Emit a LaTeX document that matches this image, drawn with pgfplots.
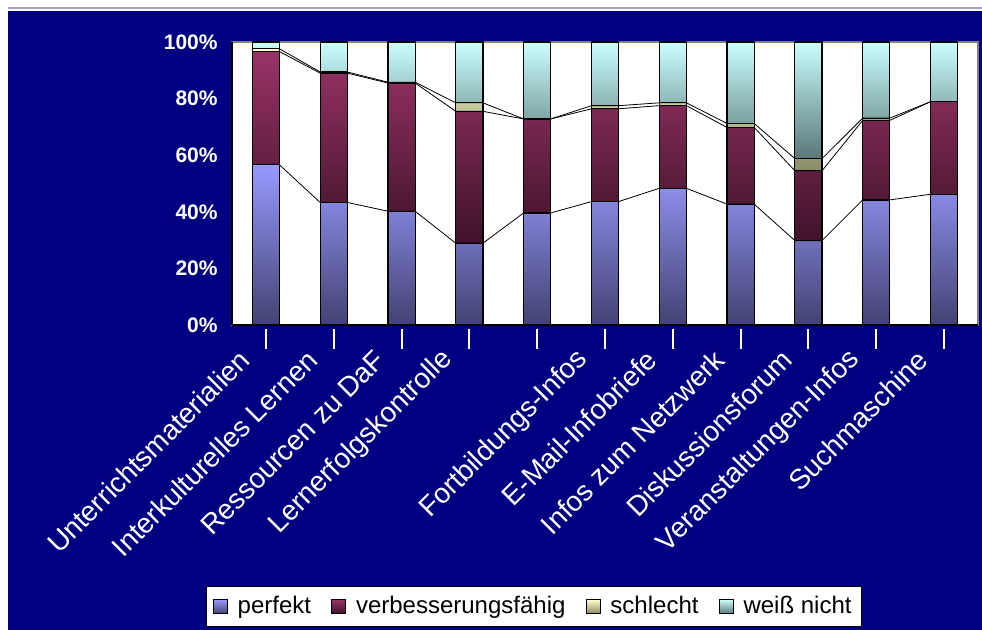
\documentclass[border=0pt]{standalone}
\usepackage{fontspec}
\setmainfont{Liberation Sans}
\usepackage{pgfplots}
\pgfplotsset{compat=1.18}
\definecolor{navybg}{HTML}{000080}
\definecolor{pT}{HTML}{9999FF}
\definecolor{pB}{HTML}{424272}
\definecolor{vT}{HTML}{993366}
\definecolor{vB}{HTML}{3E1228}
\definecolor{sT}{HTML}{FFFFCC}
\definecolor{sB}{HTML}{8A8A66}
\definecolor{wT}{HTML}{CCFFFF}
\definecolor{wB}{HTML}{587777}
\pgfplotsset{
  lg/.style={legend image code/.code={\draw[##1, line width=0.5pt] (0pt,-3.5pt) rectangle (7pt,3.5pt);}},
  geom/.style={scale only axis, width=373pt, height=141.5pt, xmin=-0.5, xmax=10.5, ymin=0, ymax=100}
}
\begin{document}
\begin{tikzpicture}
\fill[white] (0,0) rectangle (491pt,315pt);
\fill[navybg] (4pt,0) rectangle (491pt,309.5pt);
\draw[gray!70, line width=1pt] (4pt,311pt) -- (491pt,311pt);

\begin{axis}[geom, at={(116pt,152.5pt)}, anchor=south west,
  ybar stacked, bar width=0.4,
  axis background/.style={fill=white},
  axis line style={draw=gray, line width=1pt},
  major tick length=0pt, tick style={draw=none},
  xtick={0,...,10},
  xticklabels={Unterrichtsmaterialien, Interkulturelles Lernen, Ressourcen zu DaF, Lernerfolgskontrolle, {}, Fortbildungs-Infos, E-Mail-Infobriefe, Infos zum Netzwerk, Diskussionsforum, Veranstaltungen-Infos, Suchmaschine},
  xticklabel style={white, font=\fontsize{14}{16}\selectfont, inner sep=0pt, anchor=east, xshift=-10.5pt, yshift=-15pt, rotate=45},
  ytick={0,20,40,60,80,100},
  yticklabels={0\%,20\%,40\%,60\%,80\%,100\%},
  yticklabel style={white, font=\fontsize{10.5}{12}\selectfont\bfseries, inner sep=0pt, anchor=east, xshift=-7pt},
  legend columns=4,
  legend style={at={(0.405,-0.995)}, anchor=center, draw=black, fill=white, font=\fontsize{12}{14}\selectfont, inner xsep=3pt, inner ysep=3pt,
    /tikz/every odd column/.append style={column sep=3pt},
    /tikz/every even column/.append style={column sep=8pt}},
]
\addplot[lg, draw=black, line width=0.6pt, top color=pT, bottom color=pB] coordinates {(0,56.6) (1,43.3) (2,40.2) (3,28.9) (4,39.6) (5,43.6) (6,48.3) (7,42.7) (8,29.8) (9,44.2) (10,46.2)};
\addplot[lg, draw=black, line width=0.6pt, top color=vT, bottom color=vB] coordinates {(0,40.0) (1,45.7) (2,45.3) (3,46.6) (4,33.2) (5,32.8) (6,29.2) (7,27.1) (8,24.7) (9,28.1) (10,32.7)};
\addplot[lg, draw=black, line width=0.6pt, top color=sT, bottom color=sB] coordinates {(0,1.0) (1,0.4) (2,0.3) (3,3.0) (4,0.0) (5,1.1) (6,1.0) (7,1.4) (8,4.3) (9,0.8) (10,0.0)};
\addplot[lg, draw=black, line width=0.6pt, top color=wT, bottom color=wB] coordinates {(0,2.4) (1,10.6) (2,14.2) (3,21.5) (4,27.2) (5,22.5) (6,21.5) (7,28.8) (8,41.2) (9,26.9) (10,21.1)};
\legend{perfekt, verbesserungsfähig, schlecht, weiß nicht}
\end{axis}

% series lines and black axis lines / ticks
\begin{axis}[geom, at={(116pt,152.5pt)}, anchor=south west,
  axis x line*=bottom, axis y line*=left,
  axis line style={black, line width=0.8pt},
  xtick=\empty, ytick=\empty,
  minor xtick={-0.5,0.5,...,10.5}, minor ytick={0,20,...,100},
  tick align=outside, minor tick length=4pt,
  tick style={black, line width=0.6pt},
  clip=false]
\addplot[black, line width=0.4pt, mark=none] coordinates {(0.2,56.6) (0.8,43.3) (1.2,43.3) (1.8,40.2) (2.2,40.2) (2.8,28.9) (3.2,28.9) (3.8,39.6) (4.2,39.6) (4.8,43.6) (5.2,43.6) (5.8,48.3) (6.2,48.3) (6.8,42.7) (7.2,42.7) (7.8,29.8) (8.2,29.8) (8.8,44.2) (9.2,44.2) (9.8,46.2)};
\addplot[black, line width=0.4pt, mark=none] coordinates {(0.2,96.6) (0.8,89.0) (1.2,89.0) (1.8,85.5) (2.2,85.5) (2.8,75.5) (3.2,75.5) (3.8,72.8) (4.2,72.8) (4.8,76.4) (5.2,76.4) (5.8,77.5) (6.2,77.5) (6.8,69.8) (7.2,69.8) (7.8,54.5) (8.2,54.5) (8.8,72.3) (9.2,72.3) (9.8,78.9)};
\addplot[black, line width=0.4pt, mark=none] coordinates {(0.2,97.6) (0.8,89.4) (1.2,89.4) (1.8,85.8) (2.2,85.8) (2.8,78.5) (3.2,78.5) (3.8,72.8) (4.2,72.8) (4.8,77.5) (5.2,77.5) (5.8,78.5) (6.2,78.5) (6.8,71.2) (7.2,71.2) (7.8,58.8) (8.2,58.8) (8.8,73.1) (9.2,73.1) (9.8,78.9)};
\end{axis}

% white marks below the category axis
\begin{axis}[geom, at={(116pt,150.5pt)}, anchor=south west,
  axis x line*=bottom, axis y line=none,
  axis line style={draw=none},
  xtick={0,...,10}, xticklabels={}, ytick=\empty,
  tick align=outside, major tick length=10pt,
  tick style={white, line width=1pt}]
\end{axis}
\pgfresetboundingbox
\path[use as bounding box] (0,0) rectangle (491pt,315pt);
\end{tikzpicture}
\end{document}
